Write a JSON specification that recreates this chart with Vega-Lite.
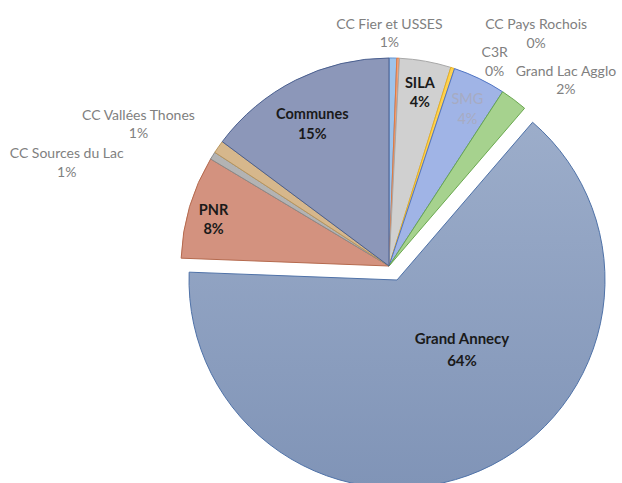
{
  "$schema": "https://vega.github.io/schema/vega-lite/v6.json",
  "width": 466,
  "height": 434,
  "autosize": {"type": "none"},
  "padding": {"left": 156, "right": 0, "top": 49, "bottom": 0},
  "background": "white",
  "view": {"stroke": null},
  "config": {"text": {"font": "Lato"}},
  "data": {
    "values": [
      {"name": "CC Fier et USSES", "value": 0.6},
      {"name": "CC Pays Rochois", "value": 0.2},
      {"name": "SILA", "value": 4.0},
      {"name": "C3R", "value": 0.3},
      {"name": "SMG", "value": 4.1},
      {"name": "Grand Lac Agglo", "value": 2.1},
      {"name": "Grand Annecy", "value": 64.3},
      {"name": "PNR", "value": 8.0},
      {"name": "CC Sources du Lac", "value": 0.6},
      {"name": "CC Vallées Thones", "value": 1.0},
      {"name": "Communes", "value": 14.8}
    ]
  },
  "transform": [
    {"stack": "value", "groupby": [], "as": ["v0", "v1"]},
    {"calculate": "(datum.v0 + datum.v1) / 2", "as": "mid"},
    {"calculate": "datum.name + '\\n' + format(datum.value / 100, '.0%')", "as": "label"}
  ],
  "encoding": {
    "fill": {
      "field": "name", "type": "nominal", "legend": null,
      "scale": {
        "domain": ["CC Fier et USSES", "CC Pays Rochois", "SILA", "C3R", "SMG", "Grand Lac Agglo", "Grand Annecy", "PNR", "CC Sources du Lac", "CC Vallées Thones", "Communes"],
        "range": ["#9fc3ea", "#f2a27a", "#d0d0d0", "#ffd24f", "#a0b4e6", "#a6d28e", "#8fa1c2", "#d3927f", "#b3b3b3", "#d6b78c", "#8c97b9"]
      }
    },
    "stroke": {
      "field": "name", "type": "nominal", "legend": null,
      "scale": {
        "domain": ["CC Fier et USSES", "CC Pays Rochois", "SILA", "C3R", "SMG", "Grand Lac Agglo", "Grand Annecy", "PNR", "CC Sources du Lac", "CC Vallées Thones", "Communes"],
        "range": ["#5b8fd0", "#e07a40", "#a8a8a8", "#e8b020", "#4f74c4", "#6aa84f", "#4f72a8", "#b56a4e", "#8a8a8a", "#b8955c", "#4a5f8f"]
      }
    }
  },
  "layer": [
    {
      "transform": [{"filter": "datum.name != 'Grand Annecy'"}],
      "mark": {"type": "arc", "outerRadius": 208, "innerRadius": 0, "strokeWidth": 1},
      "encoding": {
        "theta": {"field": "v0", "type": "quantitative", "stack": null, "scale": {"domain": [0, 100]}},
        "theta2": {"field": "v1"}
      }
    },
    {
      "transform": [{"filter": "datum.name == 'Grand Annecy'"}],
      "mark": {"type": "arc", "outerRadius": 208, "innerRadius": 0, "strokeWidth": 1, "xOffset": 8, "yOffset": 14},
      "encoding": {
        "theta": {"field": "v0", "type": "quantitative", "stack": null, "scale": {"domain": [0, 100]}},
        "theta2": {"field": "v1"},
        "fill": {"value": {"gradient": "linear", "x1": 0, "y1": 0, "x2": 0, "y2": 1, "stops": [{"offset": 0, "color": "#9cadca"}, {"offset": 1, "color": "#8094b7"}]}}
      }
    },
    {
      "transform": [{"filter": "datum.name == 'SILA'"}],
      "mark": {"type": "text", "radius": 176, "dy": -9, "fontSize": 14.5, "fontWeight": "bold", "lineBreak": "\n", "lineHeight": 19, "align": "center", "baseline": "middle"},
      "encoding": {
        "theta": {"field": "mid", "type": "quantitative", "stack": null, "scale": {"domain": [0, 100]}},
        "text": {"field": "label"},
        "fill": {"value": "#1a1a1a"},
        "stroke": {"value": null}
      }
    },
    {
      "transform": [{"filter": "datum.name == 'SMG'"}],
      "mark": {"type": "text", "radius": 176, "dx": 2, "dy": -7, "fontSize": 14.5, "lineBreak": "\n", "lineHeight": 20, "align": "center", "baseline": "middle"},
      "encoding": {
        "theta": {"field": "mid", "type": "quantitative", "stack": null, "scale": {"domain": [0, 100]}},
        "text": {"field": "label"},
        "fill": {"value": "#a7abc2"},
        "stroke": {"value": null}
      }
    },
    {
      "transform": [{"filter": "datum.name == 'Communes'"}],
      "mark": {"type": "text", "radius": 160, "dx": -5, "dy": -8, "fontSize": 14.5, "fontWeight": "bold", "lineBreak": "\n", "lineHeight": 20, "align": "center", "baseline": "middle"},
      "encoding": {
        "theta": {"field": "mid", "type": "quantitative", "stack": null, "scale": {"domain": [0, 100]}},
        "text": {"field": "label"},
        "fill": {"value": "#1a1a1a"},
        "stroke": {"value": null}
      }
    },
    {
      "transform": [{"filter": "datum.name == 'PNR'"}],
      "mark": {"type": "text", "radius": 183, "dy": -3, "fontSize": 14.5, "fontWeight": "bold", "lineBreak": "\n", "lineHeight": 19, "align": "center", "baseline": "middle"},
      "encoding": {
        "theta": {"field": "mid", "type": "quantitative", "stack": null, "scale": {"domain": [0, 100]}},
        "text": {"field": "label"},
        "fill": {"value": "#1a1a1a"},
        "stroke": {"value": null}
      }
    },
    {
      "transform": [{"filter": "datum.name == 'Grand Annecy'"}],
      "mark": {"type": "text", "radius": 100, "dx": 33, "dy": -19, "fontSize": 15, "fontWeight": "bold", "lineBreak": "\n", "lineHeight": 22, "align": "center", "baseline": "middle"},
      "encoding": {
        "theta": {"field": "mid", "type": "quantitative", "stack": null, "scale": {"domain": [0, 100]}},
        "text": {"field": "label"},
        "fill": {"value": "#1a1a1a"},
        "stroke": {"value": null}
      }
    },
    {
      "transform": [{"filter": "datum.name == 'CC Fier et USSES'"}],
      "mark": {"type": "text", "radius": 232, "dx": -4, "dy": -9, "fontSize": 14, "lineBreak": "\n", "lineHeight": 18, "align": "center", "baseline": "middle"},
      "encoding": {
        "theta": {"field": "mid", "type": "quantitative", "stack": null, "scale": {"domain": [0, 100]}},
        "text": {"field": "label"},
        "fill": {"value": "#808080"},
        "stroke": {"value": null}
      }
    },
    {
      "transform": [{"filter": "datum.name == 'CC Pays Rochois'"}],
      "mark": {"type": "text", "radius": 208, "dx": 138, "dy": -33, "fontSize": 14, "lineBreak": "\n", "lineHeight": 19, "align": "center", "baseline": "middle"},
      "encoding": {
        "theta": {"field": "mid", "type": "quantitative", "stack": null, "scale": {"domain": [0, 100]}},
        "text": {"field": "label"},
        "fill": {"value": "#808080"},
        "stroke": {"value": null}
      }
    },
    {
      "transform": [{"filter": "datum.name == 'C3R'"}],
      "mark": {"type": "text", "radius": 208, "dx": 42, "dy": -15, "fontSize": 14, "lineBreak": "\n", "lineHeight": 19, "align": "center", "baseline": "middle"},
      "encoding": {
        "theta": {"field": "mid", "type": "quantitative", "stack": null, "scale": {"domain": [0, 100]}},
        "text": {"field": "label"},
        "fill": {"value": "#808080"},
        "stroke": {"value": null}
      }
    },
    {
      "transform": [{"filter": "datum.name == 'Grand Lac Agglo'"}],
      "mark": {"type": "text", "radius": 208, "dx": 52, "dy": -28, "fontSize": 14, "lineBreak": "\n", "lineHeight": 18, "align": "center", "baseline": "middle"},
      "encoding": {
        "theta": {"field": "mid", "type": "quantitative", "stack": null, "scale": {"domain": [0, 100]}},
        "text": {"field": "label"},
        "fill": {"value": "#808080"},
        "stroke": {"value": null}
      }
    },
    {
      "transform": [{"filter": "datum.name == 'CC Vallées Thones'"}],
      "mark": {"type": "text", "radius": 208, "dx": -80, "dy": -31, "fontSize": 14, "lineBreak": "\n", "lineHeight": 18, "align": "center", "baseline": "middle"},
      "encoding": {
        "theta": {"field": "mid", "type": "quantitative", "stack": null, "scale": {"domain": [0, 100]}},
        "text": {"field": "label"},
        "fill": {"value": "#808080"},
        "stroke": {"value": null}
      }
    },
    {
      "transform": [{"filter": "datum.name == 'CC Sources du Lac'"}],
      "mark": {"type": "text", "radius": 208, "dx": -146, "dy": -2, "fontSize": 14, "lineBreak": "\n", "lineHeight": 19, "align": "center", "baseline": "middle"},
      "encoding": {
        "theta": {"field": "mid", "type": "quantitative", "stack": null, "scale": {"domain": [0, 100]}},
        "text": {"field": "label"},
        "fill": {"value": "#808080"},
        "stroke": {"value": null}
      }
    }
  ]
}
